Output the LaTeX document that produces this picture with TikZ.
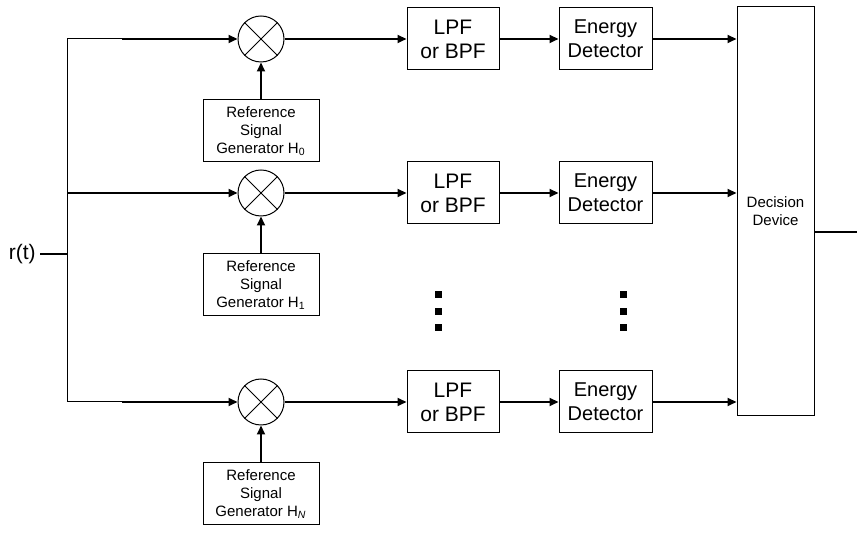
\documentclass[tikz,border=0pt]{standalone}
\usepackage{fontspec}
\setmainfont{Liberation Sans}
\usetikzlibrary{arrows.meta}

\begin{document}
\begin{tikzpicture}[x=0.5pt, y=-0.5pt,
	blk/.style={draw, line width=0.5pt, align=center, inner sep=0pt},
	mixer/.style={draw, line width=0.5pt, circle, minimum size=23pt, inner sep=0pt},
	sig/.style={line width=1pt, -{Triangle[length=4.5pt, width=4pt]}},
	wire/.style={line width=0.5pt}]
	\useasboundingbox (0,0) rectangle (857,533);

	% Decision device on the right
	\node[blk, minimum width=38.5pt, minimum height=204.5pt, font=\fontsize{7.5}{9}\selectfont] (dec) at (775.5,211.5) {Decision\\Device};
	\coordinate (out) at (857,232);
	\draw[line width=1pt] (dec.east |- out) -- (out);

	% Input r(t) and the bus
	\node[anchor=east, inner sep=2pt, font=\fontsize{10.5}{12}\selectfont] (in) at (40,254) {r(t)};
	\coordinate (bus) at (67,254);
	\coordinate (bustop) at (67,39);
	\coordinate (busbot) at (67,402);
	\draw[line width=1pt] (in.east) -- (bus);
	\draw[wire] (bustop) -- (busbot);

	% One branch per hypothesis
	\foreach \n/\y/\h/\m in {0/39/0/122, 1/193/1/67, 2/402/\textit{N}/122} {
		\coordinate (tap\n) at (67,\y);
		\coordinate (mid\n) at (\m,\y);
		\node[mixer] (mix\n) at (261,\y) {};
		\draw[wire] (mix\n.north west) -- (mix\n.south east) (mix\n.north east) -- (mix\n.south west);
		\node[blk, minimum width=58pt, minimum height=31pt, font=\fontsize{7.5}{9}\selectfont] (ref\n) at (261,{\y+92}) {Reference\\Signal\\Generator H\textsubscript{\h}};
		\node[blk, minimum width=46pt, minimum height=31pt, font=\fontsize{10.5}{12}\selectfont] (lpf\n) at (453,\y) {LPF\\or BPF};
		\node[blk, minimum width=46.5pt, minimum height=31pt, font=\fontsize{10}{12}\selectfont] (ed\n) at (605.5,\y) {Energy\\Detector};

		% Signal path
		\draw[wire] (tap\n) -- (mid\n);
		\draw[sig] (mid\n) -- (mix\n);
		\draw[sig] (ref\n) -- (mix\n);
		\draw[sig] (mix\n) -- (lpf\n);
		\draw[sig] (lpf\n) -- (ed\n);
		\draw[sig] (ed\n) -- (ed\n -| dec.west);
	}

	% Vertical dots between the branches
	\foreach \x in {438,623}
	\foreach \y in {295,312,328}
	\fill (\x-3.5,\y-3.5) rectangle ++(7,7);
\end{tikzpicture}
\end{document}
